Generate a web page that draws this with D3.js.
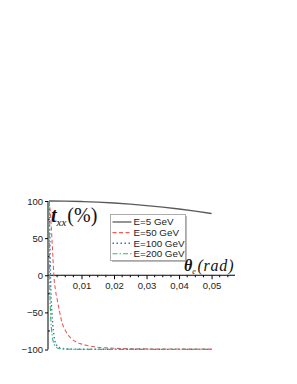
<!DOCTYPE html>
<html>
<head>
<meta charset="utf-8">
<script src="https://cdn.jsdelivr.net/npm/d3@7"></script>
<style>
  html, body { margin: 0; padding: 0; background: #fff; }
  svg { display: block; }
</style>
</head>
<body>
<script>
// ---------------------- DATA ----------------------
const xTicks = [0.01, 0.02, 0.03, 0.04, 0.05];
const yTicks = [-100, -50, 0, 50, 100];

const e5X = [0, 0.005, 0.01, 0.015, 0.02, 0.025, 0.03, 0.035, 0.04, 0.045, 0.05];
const e5Y = [100, 99.8, 99.3, 98.5, 97.3, 95.8, 93.9, 91.7, 89.2, 86.3, 83.1];

const e50X = [0, 0.0003, 0.0006, 0.0009, 0.0012, 0.0015, 0.002, 0.0026, 0.0033, 0.0041, 0.005, 0.0066, 0.008, 0.0095, 0.0117, 0.0142, 0.018, 0.022, 0.03, 0.04, 0.05];
const e50Y = [100, 90, 72, 50, 25, 0, -20, -34, -50, -65, -74, -84, -89, -92, -94.5, -96.5, -97.8, -98.6, -99.2, -99.4, -99.5];

const e100X = [0, 0.0001, 0.0002, 0.0003, 0.0004, 0.0006, 0.0009, 0.0012, 0.0015, 0.0019, 0.0024, 0.003, 0.0036, 0.005, 0.008, 0.015, 0.05];
const e100Y = [100, 88, 70, 45, 15, -22, -50, -68, -80, -90, -94.5, -97, -98.2, -99, -99.5, -99.7, -99.8];

const e200X = [0, 0.00005, 0.0001, 0.00015, 0.0002, 0.0003, 0.00045, 0.0006, 0.0008, 0.001, 0.0013, 0.0016, 0.002, 0.0025, 0.003, 0.004, 0.006, 0.01, 0.05];
const e200Y = [100, 85, 62, 33, 5, -25, -48, -62, -74, -82, -89, -93, -96, -97.8, -98.6, -99.2, -99.6, -99.8, -99.9];

const seriesNames = ["E=5 GeV", "E=50 GeV", "E=100 GeV", "E=200 GeV"];

// ---------------------- SETUP ----------------------
const width = 297, height = 384;
const svg = d3.select("body").append("svg")
    .attr("width", width)
    .attr("height", height);

const x = d3.scaleLinear().domain([-0.0003, 0.0572]).range([48, 235]);
const y = d3.scaleLinear().domain([-100, 100]).range([349.5, 201]);

const sans = "'Liberation Sans', Arial, sans-serif";
const serif = "'Liberation Serif', 'Times New Roman', serif";

// styles for each curve
const series = [
    {xs: e5X, ys: e5Y, color: "#5a5a5a", dash: null, width: 1.3},
    {xs: e50X, ys: e50Y, color: "#f05a5a", dash: "4,2.5", width: 1.1},
    {xs: e100X, ys: e100Y, color: "#3a6fd8", dash: "1.5,2.5", width: 1.4},
    {xs: e200X, ys: e200Y, color: "#3cb371", dash: "5,2,1.5,2", width: 1.1}
];

// ---------------------- AXES ----------------------
const xAxis = svg.append("g")
    .attr("transform", `translate(0,${y(0)})`)
    .call(d3.axisBottom(x).tickValues(xTicks).tickSize(4).tickPadding(3)
        .tickFormat(d => d3.format(".2f")(d).replace(".", ",")));
xAxis.select(".domain").attr("d", `M${x.range()[0]},0H${x.range()[1]}`);

// minor ticks on x
svg.append("g")
    .selectAll("line")
    .data(d3.range(0.0025, 0.057, 0.0025).filter(v => Math.abs(v * 100 - Math.round(v * 100)) > 1e-6))
    .join("line")
    .attr("x1", d => x(d)).attr("x2", d => x(d))
    .attr("y1", y(0)).attr("y2", y(0) + 2)
    .attr("stroke", "#000");

const yAxis = svg.append("g")
    .attr("transform", `translate(${x.range()[0]},0)`)
    .call(d3.axisLeft(y).tickValues(yTicks).tickSize(3).tickPadding(2));
yAxis.select(".domain").attr("d", `M0,${y.range()[0]}V${y.range()[1]}`);

// minor ticks on y
svg.append("g")
    .selectAll("line")
    .data([-75, -25, 25, 75])
    .join("line")
    .attr("x1", x.range()[0]).attr("x2", x.range()[0] + 2)
    .attr("y1", d => y(d)).attr("y2", d => y(d))
    .attr("stroke", "#000");

svg.selectAll(".tick text")
    .attr("font-family", sans)
    .attr("font-size", 9.5)
    .attr("fill", "#222");

// ---------------------- CURVES ----------------------
const line = d3.line()
    .x(d => x(d[0]))
    .y(d => y(d[1]))
    .curve(d3.curveMonotoneX);

series.forEach(s => {
    svg.append("path")
        .datum(d3.zip(s.xs, s.ys))
        .attr("d", line)
        .attr("fill", "none")
        .attr("stroke", s.color)
        .attr("stroke-width", s.width)
        .attr("stroke-dasharray", s.dash);
});

// ---------------------- LEGEND ----------------------
const legend = svg.append("g").attr("transform", "translate(110.5,214.5)");
legend.append("rect")
    .attr("x", 1.5).attr("y", 1.5)
    .attr("width", 75).attr("height", 46)
    .attr("fill", "#bbb");
legend.append("rect")
    .attr("width", 75).attr("height", 46)
    .attr("fill", "#fff")
    .attr("stroke", "#999")
    .attr("stroke-width", 0.8);

seriesNames.forEach((name, i) => {
    const s = series[i];
    const ly = 7.5 + i * 10.6;
    legend.append("line")
        .attr("x1", 2).attr("x2", 21)
        .attr("y1", ly).attr("y2", ly)
        .attr("stroke", s.color)
        .attr("stroke-width", s.width)
        .attr("stroke-dasharray", s.dash);
    legend.append("text")
        .attr("x", 23).attr("y", ly + 3.4)
        .attr("font-family", sans)
        .attr("font-size", 9.8)
        .attr("fill", "#222")
        .text(name);
});

// ---------------------- AXIS TITLES ----------------------
const yTitle = svg.append("text")
    .attr("x", 51).attr("y", 222)
    .attr("font-family", serif)
    .attr("fill", "#111");
yTitle.append("tspan")
    .attr("font-size", 20).attr("font-style", "italic").attr("font-weight", "bold")
    .text("t");
yTitle.append("tspan")
    .attr("font-size", 11).attr("font-style", "italic").attr("dy", 4)
    .text("xx");
yTitle.append("tspan")
    .attr("font-size", 20).attr("dy", -4).attr("dx", 1)
    .text("(%)");

const xTitle = svg.append("text")
    .attr("x", 184).attr("y", 271)
    .attr("font-family", serif)
    .attr("fill", "#111");
xTitle.append("tspan")
    .attr("font-size", 16).attr("font-style", "italic").attr("font-weight", "bold")
    .text("θ");
xTitle.append("tspan")
    .attr("font-size", 8).attr("font-style", "italic").attr("dy", 3)
    .text("e");
xTitle.append("tspan")
    .attr("font-size", 16).attr("font-style", "italic").attr("dy", -3).attr("dx", 1.5)
    .attr("letter-spacing", 0.8)
    .text("(rad)");
</script>
</body>
</html>
